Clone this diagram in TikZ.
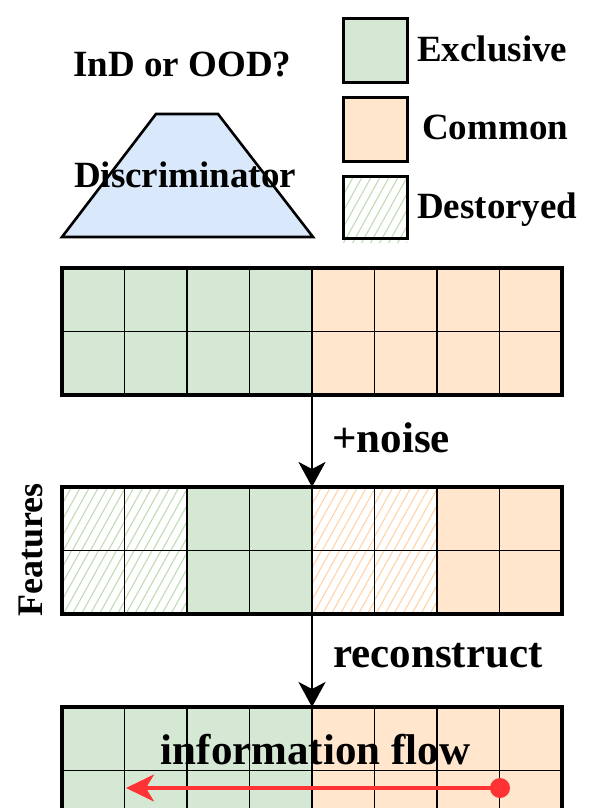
\documentclass[tikz,border=0pt]{standalone}
\usepackage{fontspec}
\setmainfont{Liberation Serif}
\usetikzlibrary{arrows.meta}
\definecolor{gfill}{HTML}{D5E8D4}
\definecolor{ofill}{HTML}{FFE6CC}
\definecolor{bfill}{HTML}{DAE8FC}
\definecolor{ghatch}{HTML}{BEDDB4}
\definecolor{ohatch}{HTML}{FFD4AA}
\definecolor{flowred}{HTML}{FF3333}
\tikzset{
  lbl/.style={font=\fontsize{37}{40}\selectfont\bfseries, inner sep=0pt},
  biglbl/.style={font=\fontsize{43}{46}\selectfont\bfseries, inner sep=0pt},
  gridbox/.style={draw=none, minimum width=500pt, minimum height=127pt, inner sep=0pt, outer sep=0pt},
  thinline/.style={line width=1.6pt, black},
  groupline/.style={line width=2.4pt, black},
  outerline/.style={line width=3.6pt, black},
  legbox/.style={line width=3pt, black},
  flowarrow/.style={line width=2.6pt, -{Stealth[length=25pt, width=27pt, inset=7pt]}},
  redarrow/.style={line width=3.2pt, flowred, -{Stealth[length=28pt, width=27pt, inset=8pt]}},
  hatchline/.style={line width=1.1pt},
}
\newcommand\featgrid[3]{%
  \node[gridbox, anchor=north west] (#1) at (62,#2) {};
  \foreach \f/\h [count=\i from 0] in {#3}{%
    \foreach \r in {0,1}{%
      \begin{scope}
        \clip (62+62.5*\i, #2+63.5*\r) rectangle ++(62.5,63.5);
        \fill[fill=\f] (62+62.5*\i, #2+63.5*\r) rectangle ++(62.5,63.5);
        \foreach \k in {-5,...,7}
          \draw[hatchline, draw=\h] (62+62.5*\i+9*\k, #2+63.5*\r+66) -- ++(40,-72);
      \end{scope}
    }
  }
  \foreach \i in {1,3,5,7}
    \draw[thinline] (62+62.5*\i, #2) -- ++(0,127);
  \foreach \i in {2,4,6}
    \draw[groupline] (62+62.5*\i, #2) -- ++(0,127);
  \draw[thinline] (62, #2+63.5) -- ++(500,0);
  \draw[outerline] (#1.north west) rectangle (#1.south east);
}
\begin{document}
\begin{tikzpicture}[x=1pt,y=-1pt]
\useasboundingbox (0,0) rectangle (598,808);
\clip (0,0) rectangle (598,808);

% discriminator
\draw[line width=2.6pt, fill=bfill, line join=miter] (62,237) -- (156,114) -- (218,114) -- (313,237) -- cycle;
\node[lbl, anchor=base] (q) at (182.5,77) {InD or OOD?};
\node[lbl, anchor=base] (disc) at (185,187) {Discriminator};

% legend
\draw[legbox, fill=gfill] (343,19) rectangle (407,82);
\draw[legbox, fill=ofill] (343,97) rectangle (407,161);
\begin{scope}
  \clip (343,176) rectangle (407,242);
  \foreach \k in {-5,...,7}
    \draw[hatchline, draw=ghatch] (343+9*\k, 244) -- ++(40,-72);
\end{scope}
\draw[legbox] (343,176) rectangle (407,238);
\node[lbl, anchor=base west] (lex) at (417,62) {Exclusive};
\node[lbl, anchor=base west] (lco) at (422,139) {Common};
\node[lbl, anchor=base west] (lde) at (417,218) {Destoryed};

% grids
\featgrid{grid1}{268}{gfill/none,gfill/none,gfill/none,gfill/none,ofill/none,ofill/none,ofill/none,ofill/none}
\featgrid{grid2}{487}{white/ghatch,white/ghatch,gfill/none,gfill/none,white/ohatch,white/ohatch,ofill/none,ofill/none}
\featgrid{grid3}{707}{gfill/none,gfill/none,gfill/none,gfill/none,ofill/none,ofill/none,ofill/none,ofill/none}

% arrows
\draw[flowarrow] (grid1.south) -- (grid2.north);
\draw[flowarrow] (grid2.south) -- (grid3.north);
\node[biglbl, anchor=base west] (noise) at (332,452) {+noise};
\node[biglbl, anchor=base west] (rec) at (333,667) {reconstruct};

% features label
\node[font=\fontsize{36}{40}\selectfont\bfseries, inner sep=0pt, rotate=90, anchor=base] (feat) at (42,550) {Features};

% information flow
\node[biglbl, anchor=base] (info) at (315.5,764) {information flow};
\node[circle, fill=flowred, minimum size=20pt, inner sep=0pt] (dot) at (500,788) {};
\coordinate (flowend) at (126,788);
\draw[redarrow] (dot.center) -- (flowend);
\end{tikzpicture}
\end{document}
